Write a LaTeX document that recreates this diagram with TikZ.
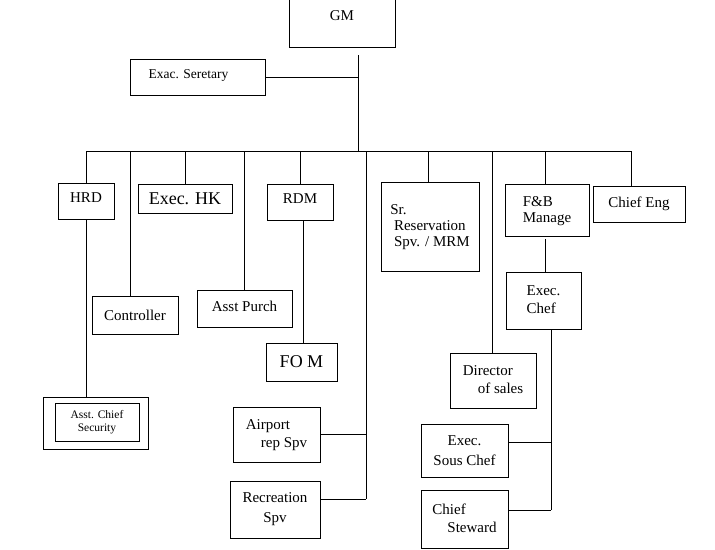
\documentclass[tikz,border=0pt]{standalone}
\usepackage{fontspec}
\setmainfont{Liberation Serif}
\begin{document}
\begin{tikzpicture}[x=1pt,y=-1pt,line width=1pt,
  bx/.style={draw,rectangle,inner sep=0pt,align=center,font=\fontsize{15}{20}\selectfont},
  ln/.style={draw}]
\useasboundingbox (0,0) rectangle (715,549);
\newcommand\mybox[6]{\node[bx,minimum width={#4-#2},minimum height={#5-#3}] (#1) at ({(#2+#4)/2},{(#3+#5)/2}) {#6};}
\mybox{gm}{289}{-5}{395}{47}{\raisebox{10pt}{GM}}
\mybox{sec}{130}{59}{265}{95}{\hspace*{-18pt}\raisebox{6pt}{\fontsize{13.5}{15}\selectfont Exac. Seretary}}
\mybox{hrd}{58}{183}{114}{219}{\raisebox{6pt}{HRD}}
\mybox{hk}{138}{184}{232}{213}{\fontsize{18}{20}\selectfont Exec. HK}
\mybox{rdm}{267}{184}{333}{220}{\raisebox{6pt}{RDM}}
\mybox{res}{381}{182}{479}{271}{\raisebox{12pt}{\begin{tabular}{@{}l@{}}Sr.\\[-4pt] \ Reservation\\[-4pt] \ Spv. / MRM\end{tabular}}}
\mybox{fb}{505}{184}{589}{236}{\begin{tabular}{@{}l@{}}F\&B\\[-4pt]Manage\end{tabular}}
\mybox{eng}{593}{186}{685}{222}{Chief Eng}
\mybox{ctl}{92}{296}{178}{334}{Controller}
\mybox{pur}{197}{290}{292}{327}{\raisebox{4pt}{Asst Purch}}
\mybox{fom}{266}{343}{337}{381}{\fontsize{18}{20}\selectfont FO M}
\mybox{chef}{506}{272}{581}{329}{\begin{tabular}{@{}l@{}}Exec.\\[-2pt]Chef\end{tabular}}
\mybox{dir}{450}{353}{536}{408}{\begin{tabular}{@{}l@{}}Director\\[-2pt] \quad of sales\end{tabular}}
\mybox{sec2}{43}{397}{148}{449}{}
\node[bx,minimum width=84,minimum height=38,font=\fontsize{11.5}{13}\selectfont] (acs) at (97,422) {Asst. Chief\\Security};
\mybox{air}{233}{407}{320}{462}{\begin{tabular}{@{}l@{}}Airport\\[-2pt] \quad rep Spv\end{tabular}}
\mybox{rec}{230}{481}{320}{538}{Recreation\\Spv}
\mybox{sous}{421}{424}{508}{477}{Exec.\\Sous Chef}
\mybox{stw}{421}{490}{508}{548}{\begin{tabular}{@{}l@{}}Chief\\[-2pt] \quad Steward\end{tabular}}
\coordinate (top) at (358,55);
\coordinate (bus) at (358,151);
\coordinate (bl) at (86,151);
\coordinate (br) at (631,151);
\draw (top) -- (bus);
\draw (sec.east) -- (sec.east -| top);
\draw (bl) -- (br);
\draw (bl) -- (hrd.north -| bl);
\draw (hrd.south -| bl) -- (sec2.north -| bl);
\draw (130,151) coordinate (c1) -- (ctl.north -| c1);
\draw (hk.north) -- (hk.north |- bus);
\draw (244,151) coordinate (c2) -- (pur.north -| c2);
\draw (rdm.north) -- (rdm.north |- bus);
\draw (303,151) coordinate (c0);
\draw (rdm.south -| c0) -- (fom.north -| c0);
\draw (366,151) coordinate (c3) -- (366,499);
\draw (air.east) -- (air.east -| c3);
\draw (rec.east |- 0,499) -- (366,499);
\draw (428,151) coordinate (c4) -- (res.north -| c4);
\draw (492,151) coordinate (c5) -- (dir.north -| c5);
\draw (545,151) coordinate (c6) -- (fb.north -| c6);
\draw (545,239) coordinate (c7) -- (chef.north -| c7);
\draw (br) -- (eng.north -| br);
\draw (551,329) coordinate (c8) -- (551,510);
\draw (sous.east |- 0,442) -- (551,442);
\draw (stw.east |- 0,510) -- (551,510);
\end{tikzpicture}
\end{document}
